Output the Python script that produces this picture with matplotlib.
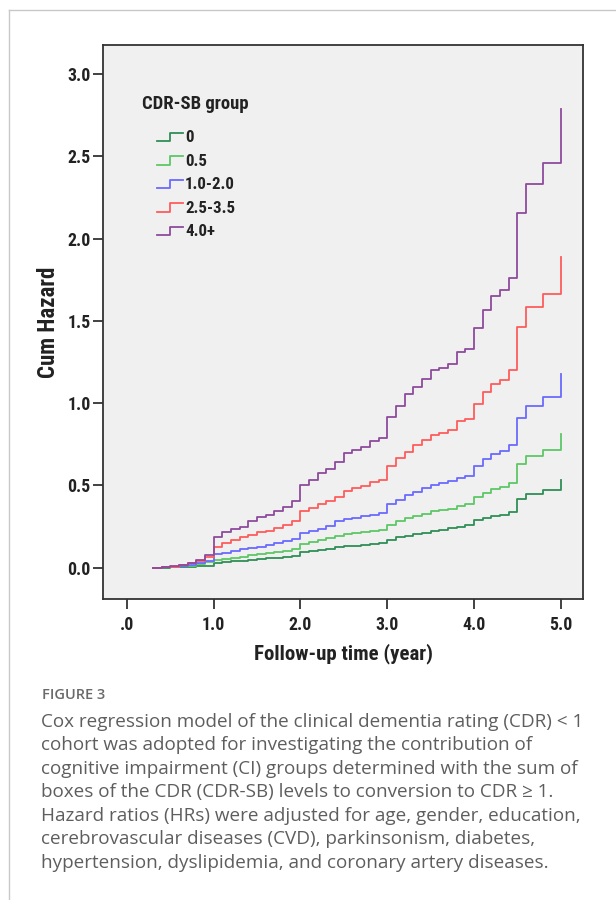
import matplotlib
matplotlib.use('Agg')
import matplotlib.pyplot as plt
from matplotlib.lines import Line2D

# Follow-up times (year) of the cumulative hazard steps
follow_up = [0.3, 0.4, 0.5, 0.6, 0.7, 0.8, 0.9,
             1.0, 1.1, 1.2, 1.3, 1.4, 1.5, 1.6, 1.7, 1.8, 1.9,
             2.0, 2.1, 2.2, 2.3, 2.4, 2.5, 2.6, 2.7, 2.8, 2.9,
             3.0, 3.1, 3.2, 3.3, 3.4, 3.5, 3.6, 3.7, 3.8, 3.9,
             4.0, 4.1, 4.2, 4.3, 4.4, 4.5, 4.6, 4.7, 4.8, 4.9,
             5.0]

# Cum hazard per CDR-SB group (one value per follow-up time above)
haz_0 = [0.0, 0.0, 0.002, 0.004, 0.006, 0.008, 0.012,
         0.028, 0.033, 0.038, 0.043, 0.048, 0.053, 0.058, 0.062, 0.067, 0.073,
         0.093, 0.099, 0.108, 0.114, 0.124, 0.13, 0.134, 0.138, 0.144, 0.15,
         0.168, 0.185, 0.195, 0.205, 0.211, 0.225, 0.232, 0.24, 0.25, 0.258,
         0.29, 0.303, 0.315, 0.323, 0.337, 0.418, 0.448, 0.448, 0.475, 0.475,
         0.534]
haz_05 = [0.0, 0.002, 0.004, 0.008, 0.012, 0.02, 0.032,
          0.047, 0.055, 0.062, 0.068, 0.075, 0.082, 0.088, 0.095, 0.102, 0.112,
          0.144, 0.154, 0.168, 0.181, 0.193, 0.205, 0.211, 0.219, 0.225, 0.231,
          0.262, 0.282, 0.302, 0.312, 0.327, 0.342, 0.351, 0.36, 0.377, 0.39,
          0.428, 0.452, 0.479, 0.491, 0.512, 0.628, 0.682, 0.682, 0.717, 0.717,
          0.81]
haz_1_2 = [0.0, 0.002, 0.005, 0.01, 0.016, 0.026, 0.039,
           0.081, 0.089, 0.103, 0.114, 0.12, 0.128, 0.138, 0.148, 0.16, 0.174,
           0.21, 0.222, 0.238, 0.256, 0.282, 0.296, 0.302, 0.312, 0.321, 0.333,
           0.388, 0.414, 0.442, 0.463, 0.485, 0.504, 0.514, 0.527, 0.547, 0.56,
           0.618, 0.658, 0.694, 0.71, 0.743, 0.909, 0.986, 0.986, 1.037, 1.037,
           1.175]
haz_25_35 = [0.0, 0.002, 0.006, 0.014, 0.026, 0.043, 0.063,
             0.126, 0.148, 0.168, 0.185, 0.199, 0.215, 0.225, 0.241, 0.262, 0.282,
             0.344, 0.363, 0.385, 0.408, 0.428, 0.469, 0.483, 0.495, 0.519, 0.536,
             0.621, 0.668, 0.702, 0.747, 0.777, 0.808, 0.82, 0.84, 0.891, 0.905,
             0.993, 1.067, 1.118, 1.142, 1.199, 1.463, 1.584, 1.584, 1.666, 1.666,
             1.889]
haz_4 = [0.0, 0.002, 0.008, 0.016, 0.026, 0.047, 0.079,
         0.189, 0.215, 0.237, 0.25, 0.282, 0.306, 0.322, 0.343, 0.371, 0.408,
         0.50, 0.532, 0.574, 0.60, 0.64, 0.70, 0.716, 0.736, 0.769, 0.79,
         0.915, 0.984, 1.057, 1.10, 1.15, 1.199, 1.213, 1.236, 1.31, 1.33,
         1.459, 1.564, 1.649, 1.686, 1.763, 2.157, 2.335, 2.335, 2.457, 2.457,
         2.786]

group_labels = ['0', '0.5', '1.0-2.0', '2.5-3.5', '4.0+']
group_colors = ['#2f8f55', '#5cc866', '#6a6aff', '#ff5c5c', '#8e4a9c']
group_hazards = [haz_0, haz_05, haz_1_2, haz_25_35, haz_4]

x_ticks = [0, 1, 2, 3, 4, 5]
x_tick_labels = ['.0', '1.0', '2.0', '3.0', '4.0', '5.0']
y_ticks = [0.0, 0.5, 1.0, 1.5, 2.0, 2.5, 3.0]
y_tick_labels = ['0.0', '0.5', '1.0', '1.5', '2.0', '2.5', '3.0']

caption_title = 'FIGURE 3'
caption_lines = [
    'Cox regression model of the clinical dementia rating (CDR) < 1',
    'cohort was adopted for investigating the contribution of',
    'cognitive impairment (CI) groups determined with the sum of',
    'boxes of the CDR (CDR-SB) levels to conversion to CDR \u2265 1.',
    'Hazard ratios (HRs) were adjusted for age, gender, education,',
    'cerebrovascular diseases (CVD), parkinsonism, diabetes,',
    'hypertension, dyslipidemia, and coronary artery diseases.',
]

W, H = 616, 900
# SPSS charts use a narrow bold face; take a condensed one if there is one
CHART_FONT = ['Roboto Condensed', 'Liberation Sans Narrow', 'Liberation Sans', 'DejaVu Sans']
TEXT_FONT = ['Open Sans', 'DejaVu Sans']


def fpx(x, y):
    # pixel position (from top left) -> figure fraction
    return x / W, 1 - y / H


fig = plt.figure(figsize=(W / 100, H / 100), dpi=100)
fig.patch.set_facecolor('white')

# Plot area, positioned in pixels
left, right, top, bottom = 103, 583, 45, 599
ax = fig.add_axes([left / W, 1 - bottom / H, (right - left) / W, (bottom - top) / H])
ax.set_facecolor('#f0f0f0')

for haz, col, lab in zip(group_hazards, group_colors, group_labels):
    ax.step(follow_up, haz, where='post', color=col, lw=1.3, label=lab)

ax.set_xlim(-0.274, 5.256)
ax.set_ylim(-0.19, 3.177)
ax.set_xticks(x_ticks)
ax.set_xticklabels(x_tick_labels)
ax.set_yticks(y_ticks)
ax.set_yticklabels(y_tick_labels)
for lbl in ax.get_xticklabels() + ax.get_yticklabels():
    lbl.set_family(CHART_FONT)
    lbl.set_fontweight('bold')
    lbl.set_fontsize(12.8)
    lbl.set_color('#222222')
ax.tick_params(axis='both', direction='out', length=7, width=1.3, color='#333333')
ax.tick_params(axis='x', pad=5)
ax.tick_params(axis='y', pad=2)
for sp in ax.spines.values():
    sp.set_color('#333333')
    sp.set_linewidth(1.3)

ax.set_xlabel('Follow-up time (year)', family=CHART_FONT, fontweight='bold',
              fontsize=15, color='#222222', labelpad=7)
ax.set_ylabel('Cum Hazard', family=CHART_FONT, fontweight='bold',
              fontsize=16.5, color='#222222', labelpad=5)

# Legend drawn by hand so the handles can be SPSS-style step glyphs
fig.text(*fpx(142, 104), 'CDR-SB group', family=CHART_FONT, fontweight='bold',
         fontsize=13.4, color='#222222', va='center', ha='left')
for i, (col, lab) in enumerate(zip(group_colors, group_labels)):
    yc = 137.5 + i * 23.6
    xs = [157, 170, 170, 183]
    ys = [yc + 3.5, yc + 3.5, yc - 5, yc - 5]
    fig.add_artist(Line2D([x / W for x in xs], [1 - y / H for y in ys],
                          transform=fig.transFigure, color=col, lw=1.3))
    fig.text(*fpx(185, yc), lab, family=CHART_FONT, fontweight='bold',
             fontsize=12.2, color='#222222', va='center', ha='left')

# Caption below the chart
fig.text(*fpx(42, 695), caption_title, family=TEXT_FONT, fontsize=10.5,
         fontweight='semibold', color='#6a6a6a', va='center', ha='left')
for i, line in enumerate(caption_lines):
    fig.text(*fpx(41, 722 + i * 23.5), line, family=TEXT_FONT, fontsize=13.6,
             color='#5e5e5e', va='center', ha='left')

# Thin page frame on the left and top edges
fig.add_artist(Line2D([9 / W, 9 / W], [0, 1 - 10 / H], transform=fig.transFigure,
                      color='#c8c8c8', lw=1))
fig.add_artist(Line2D([9 / W, 1], [1 - 10 / H, 1 - 10 / H], transform=fig.transFigure,
                      color='#c8c8c8', lw=1))

fig.savefig('out.png', dpi=100)
